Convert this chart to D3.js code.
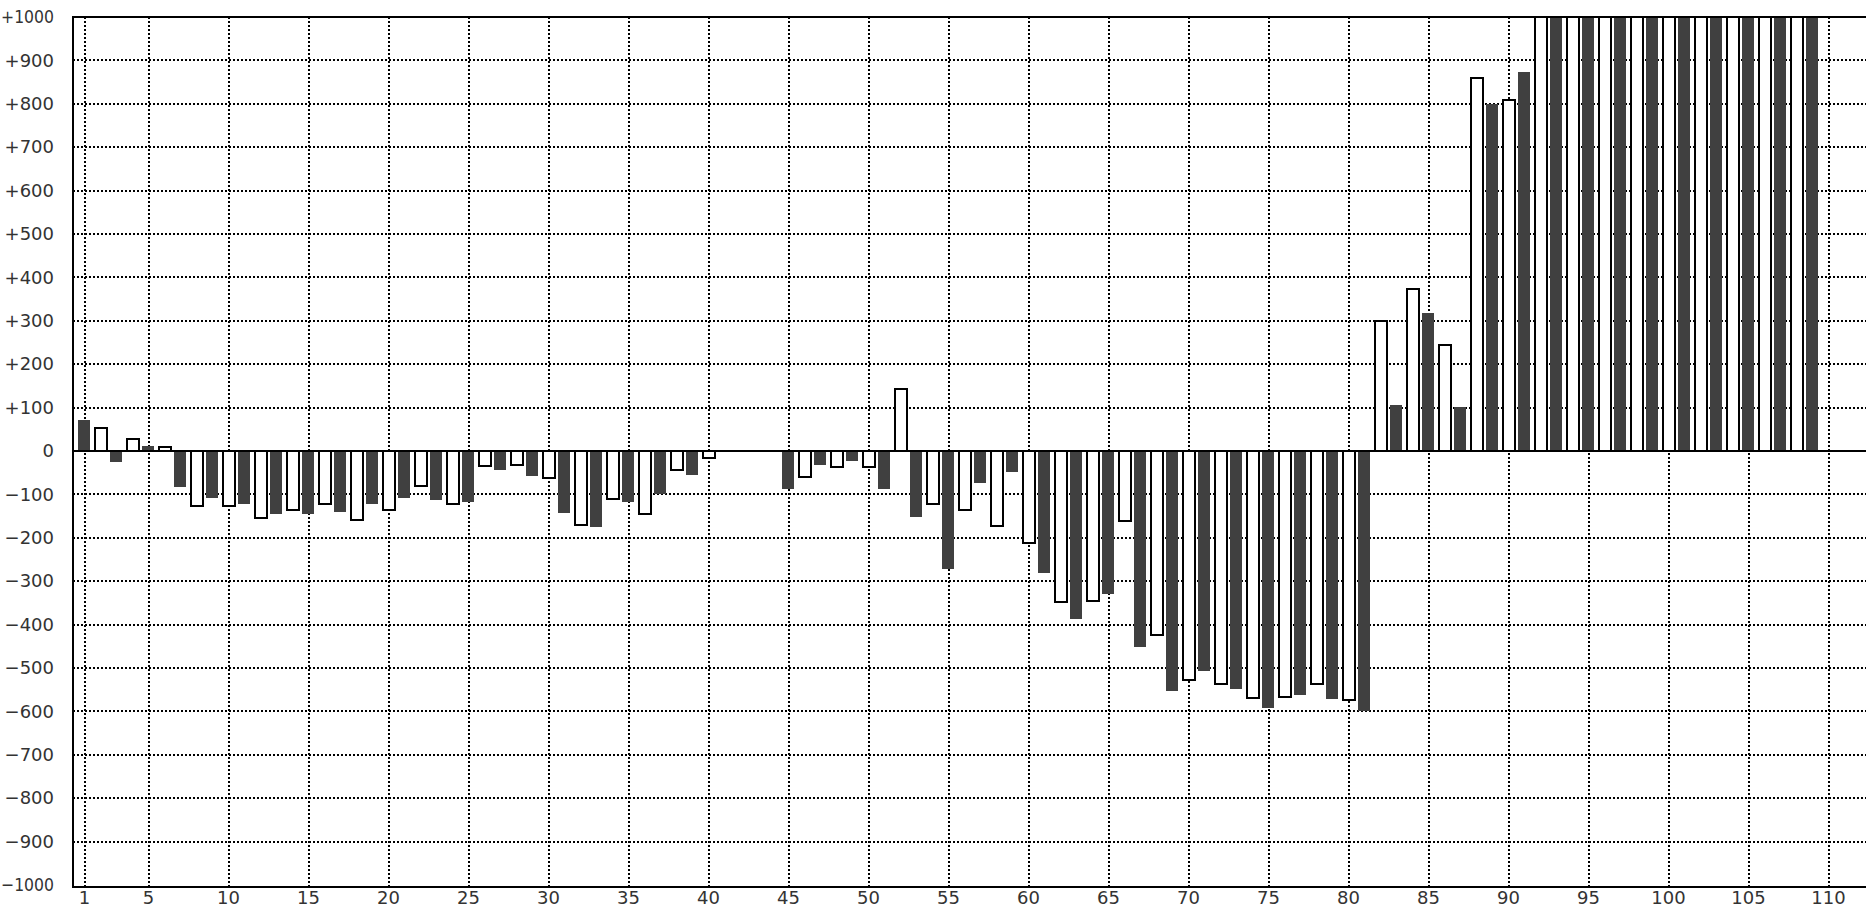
<!DOCTYPE html>
<html>
<head>
<meta charset="utf-8">
<script src="https://cdn.jsdelivr.net/npm/d3@7"></script>
<style>
  html, body { margin: 0; padding: 0; background: #fff; overflow: hidden; }
  svg { display: block; }
</style>
</head>
<body>
<script>
// ---- Data ----
// Dark bars sit on the odd positions, white bars on the even positions.
const darkX = [1,3,5,7,9,11,13,15,17,19,21,23,25,27,29,31,33,35,37,39,41,43,45,47,49,51,53,55,57,59,61,63,65,67,69,71,73,75,77,79,81,83,85,87,89,91,93,95,97,99,101,103,105,107,109];
const darkValues = [72,-26,11,-82,-109,-123,-145,-145,-141,-122,-108,-113,-118,-43,-58,-143,-174,-118,-99,-55,null,null,-88,-33,-22,-88,-151,-272,-74,-49,-280,-387,-330,-451,-552,-508,-549,-593,-563,-571,-600,107,319,102,800,874,1000,1000,1000,1000,1000,1000,1000,1000,1000];
const whiteX = [2,4,6,8,10,12,14,16,18,20,22,24,26,28,30,32,34,36,38,40,42,44,46,48,50,52,54,56,58,60,62,64,66,68,70,72,74,76,78,80,82,84,86,88,90,92,94,96,98,100,102,104,106,108];
const whiteValues = [52,28,10,-126,-126,-154,-135,-122,-158,-135,-80,-122,-34,-33,-63,-170,-110,-146,-44,-16,null,null,-60,-38,-38,143,-121,-137,-173,-212,-349,-346,-162,-423,-527,-538,-569,-566,-538,-574,300,374,245,860,808,1000,1000,1000,1000,1000,1000,1000,1000,1000];

const xTickValues = [1,5,10,15,20,25,30,35,40,45,50,55,60,65,70,75,80,85,90,95,100,105,110];
const xTickLabels = ["1","5","10","15","20","25","30","35","40","45","50","55","60","65","70","75","80","85","90","95","100","105","110"];
const yTickValues = [1000,900,800,700,600,500,400,300,200,100,0,-100,-200,-300,-400,-500,-600,-700,-800,-900,-1000];
const yTickLabels = ["+1000","+900","+800","+700","+600","+500","+400","+300","+200","+100","0","−100","−200","−300","−400","−500","−600","−700","−800","−900","−1000"];
const gridYValues = [900,800,700,600,500,400,300,200,100,-100,-200,-300,-400,-500,-600,-700,-800,-900];

// ---- Layout ----
const W = 1866, H = 908;
const plotLeft = 73, plotTop = 17, plotBottom = 887;

const x = d3.scaleLinear().domain([1, 110]).range([85, 1829]);
const y = d3.scaleLinear().domain([-1000, 1000]).range([885, 17]);

const svg = d3.select("body").append("svg")
  .attr("width", W).attr("height", H)
  .style("font-family", "'DejaVu Sans', sans-serif");

// ---- Grid ----
const grid = svg.append("g").attr("shape-rendering", "crispEdges")
  .attr("stroke", "#000").attr("stroke-width", 2).attr("stroke-dasharray", "2,2");

grid.selectAll("line.h").data(gridYValues).join("line")
  .attr("class", "h")
  .attr("x1", plotLeft).attr("x2", W)
  .attr("y1", d => Math.round(y(d))).attr("y2", d => Math.round(y(d)));

grid.selectAll("line.v").data(xTickValues).join("line")
  .attr("class", "v")
  .attr("x1", d => x(d)).attr("x2", d => x(d))
  .attr("y1", plotTop).attr("y2", plotBottom);

// ---- Bars ----
const bars = svg.append("g").attr("shape-rendering", "crispEdges");
const darkData = darkX.map((p, i) => ({p, v: darkValues[i]})).filter(d => d.v !== null);
const whiteData = whiteX.map((p, i) => ({p, v: whiteValues[i]})).filter(d => d.v !== null);

bars.selectAll("rect.dark").data(darkData).join("rect")
  .attr("class", "dark")
  .attr("x", d => x(d.p) - 7)
  .attr("width", 12)
  .attr("y", d => Math.round(Math.min(y(d.v), y(0))))
  .attr("height", d => Math.max(1, Math.round(Math.abs(y(d.v) - y(0)))))
  .attr("fill", "#404040");

bars.selectAll("rect.white").data(whiteData).join("rect")
  .attr("class", "white")
  .attr("x", d => x(d.p) - 6)
  .attr("width", 12)
  .attr("y", d => Math.round(Math.min(y(d.v), y(0))))
  .attr("height", d => Math.max(1, Math.round(Math.abs(y(d.v) - y(0)))))
  .attr("fill", "#fff")
  .attr("stroke", "#000")
  .attr("stroke-width", 2);

// ---- Zero line and frame ----
const frame = svg.append("g").attr("shape-rendering", "crispEdges")
  .attr("stroke", "#000").attr("stroke-width", 2);
frame.append("line").attr("x1", plotLeft).attr("x2", W).attr("y1", Math.round(y(0))).attr("y2", Math.round(y(0)));
frame.append("line").attr("x1", plotLeft - 1).attr("x2", W).attr("y1", plotTop).attr("y2", plotTop);
frame.append("line").attr("x1", plotLeft - 1).attr("x2", W).attr("y1", plotBottom).attr("y2", plotBottom);
frame.append("line").attr("x1", plotLeft).attr("x2", plotLeft).attr("y1", plotTop - 1).attr("y2", plotBottom + 1);

// ---- Axes labels ----
const yAxis = d3.axisLeft(y)
  .tickValues(yTickValues)
  .tickSize(0)
  .tickPadding(19)
  .tickFormat((d, i) => yTickLabels[i]);
const gy = svg.append("g").attr("transform", `translate(${plotLeft},0)`).call(yAxis);
gy.select(".domain").remove();
gy.selectAll("text").attr("font-size", 18).attr("font-family", "'DejaVu Sans', sans-serif").attr("fill", "#333");
// keep the widest labels inside the page's left edge
const maxLabelWidth = plotLeft - 19 - 1;
gy.selectAll("text").each(function() {
  const w = this.getComputedTextLength();
  if (w > maxLabelWidth) {
    d3.select(this).attr("textLength", maxLabelWidth).attr("lengthAdjust", "spacingAndGlyphs");
  }
});

const xAxis = d3.axisBottom(x)
  .tickValues(xTickValues)
  .tickSize(0)
  .tickPadding(4)
  .tickFormat((d, i) => xTickLabels[i]);
const gx = svg.append("g").attr("transform", `translate(-1,${plotBottom})`).call(xAxis);
gx.select(".domain").remove();
gx.selectAll("text").attr("font-size", 18).attr("font-family", "'DejaVu Sans', sans-serif").attr("fill", "#333");
</script>
</body>
</html>
